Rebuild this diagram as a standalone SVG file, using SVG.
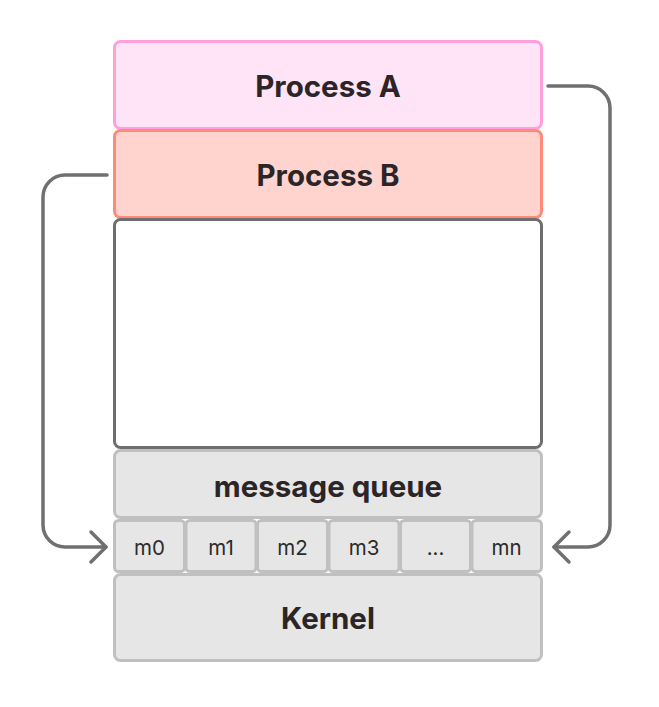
<svg xmlns="http://www.w3.org/2000/svg" width="659" height="707" viewBox="0 0 659 707">
  <defs>
    <style>
      .box { stroke-width: 3; }
      .proc-a { fill: #ffe3f6; stroke: #ff9fdc; }
      .proc-b { fill: #ffd4cf; stroke: #ff8a7a; }
      .space { fill: #ffffff; stroke: #6e6e6e; }
      .kern { fill: #e6e6e6; stroke: #c0c0c0; }
      .title { font-family: Inter, "Liberation Sans", sans-serif; font-weight: 700; font-size: 29.5px; fill: #2b2527; text-anchor: middle; }
      .cell { font-family: Inter, "Liberation Sans", sans-serif; font-weight: 400; font-size: 20.5px; fill: #2b2b2b; text-anchor: middle; }
      .flow { fill: none; stroke: #707070; stroke-width: 3.5; stroke-linecap: round; stroke-linejoin: round; }
    </style>
  </defs>

  <g id="process-a">
    <rect class="box proc-a" x="114.5" y="41.5" width="427" height="87" rx="6"/>
    <text class="title" x="328" y="96.5">Process A</text>
  </g>

  <g id="process-b">
    <rect class="box proc-b" x="114.5" y="130.5" width="427" height="87" rx="6"/>
    <text class="title" x="328" y="185.5">Process B</text>
  </g>

  <g id="user-space">
    <rect class="box space" x="114.5" y="219.5" width="427" height="228" rx="6"/>
  </g>

  <g id="message-queue">
    <rect class="box kern" x="114.5" y="450.5" width="427" height="67" rx="6"/>
    <text class="title" x="328" y="496.5">message queue</text>
  </g>

  <g id="slots">
    <g id="slot-m0"><rect class="box kern" x="114.5" y="520.5" width="70" height="51" rx="4"/><text class="cell" x="149.5" y="555">m0</text></g>
    <g id="slot-m1"><rect class="box kern" x="186" y="520.5" width="70" height="51" rx="4"/><text class="cell" x="221" y="555">m1</text></g>
    <g id="slot-m2"><rect class="box kern" x="257.5" y="520.5" width="70" height="51" rx="4"/><text class="cell" x="292.5" y="555">m2</text></g>
    <g id="slot-m3"><rect class="box kern" x="329" y="520.5" width="70" height="51" rx="4"/><text class="cell" x="364" y="555">m3</text></g>
    <g id="slot-dots"><rect class="box kern" x="400.5" y="520.5" width="70" height="51" rx="4"/><text class="cell" x="435.5" y="555">...</text></g>
    <g id="slot-mn"><rect class="box kern" x="472" y="520.5" width="69.5" height="51" rx="4"/><text class="cell" x="506.5" y="555">mn</text></g>
  </g>

  <g id="kernel">
    <rect class="box kern" x="114.5" y="574.5" width="427" height="86" rx="6"/>
    <text class="title" x="328" y="628.5">Kernel</text>
  </g>

  <g id="connectors">
    <!-- Process A sends to the tail slot -->
    <path class="flow" d="M548 86 H588 A22 22 0 0 1 610 108 V525 A22 22 0 0 1 588 547 H554"/>
    <path class="flow" d="M569 532 L554 547 L569 562"/>
    <!-- Process B reads from the head slot -->
    <path class="flow" d="M107 175 H65 A22 22 0 0 0 43 197 V525 A22 22 0 0 0 65 547 H106"/>
    <path class="flow" d="M91 532 L106 547 L91 562"/>
  </g>
</svg>
